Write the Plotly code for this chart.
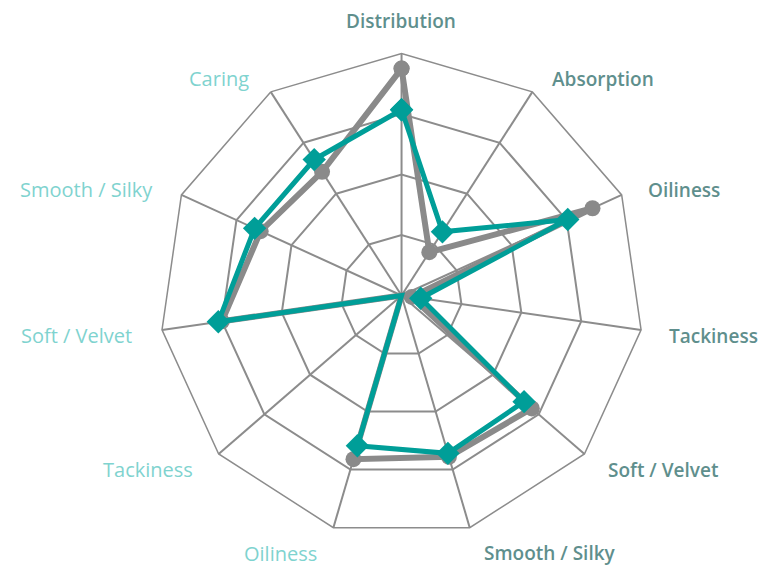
import math
import plotly.graph_objects as go

# Category ids (unique) and displayed labels
category_ids = ["Distribution", "Absorption", "Oiliness R", "Tackiness R", "Soft / Velvet R",
                "Smooth / Silky R", "Oiliness L", "Tackiness L", "Soft / Velvet L",
                "Smooth / Silky L", "Caring"]
label_text = ["Distribution", "Absorption", "Oiliness", "Tackiness", "Soft / Velvet",
              "Smooth / Silky", "Oiliness", "Tackiness", "Soft / Velvet",
              "Smooth / Silky", "Caring"]
label_group = ["dark", "dark", "dark", "dark", "dark", "dark",
               "light", "light", "light", "light", "light"]

grey_values = [3.75, 0.85, 3.47, 0.17, 2.85, 2.78, 2.82, 0.0, 3.0, 2.56, 2.43]
teal_values = [3.07, 1.25, 3.02, 0.32, 2.68, 2.72, 2.59, 0.0, 3.06, 2.67, 2.67]

radial_ticks = [1, 2, 3, 4]

DARK = "#5f8f8d"
LIGHT = "#7fd3cf"
GREY = "#8a8a8a"
TEAL = "#009e98"
GRID = "#8c8c8c"

W, H = 770, 567
OFF = 8  # page body margin offset of the plot div (pixels)
# on-screen polar centre / outer radius (pixels) for the domain below
CX, CY, R = 400.5, 293.5, 243.5
PAD, GAP = 18, 8


def closed(v):
    return list(v) + [v[0]]


fig = go.Figure()
fig.add_trace(go.Scatterpolar(
    r=closed(grey_values), theta=closed(category_ids), mode="lines+markers",
    line=dict(color=GREY, width=6), marker=dict(color=GREY, size=16, symbol="circle"),
    showlegend=False, hoverinfo="skip"))
fig.add_trace(go.Scatterpolar(
    r=closed(teal_values), theta=closed(category_ids), mode="lines+markers",
    line=dict(color=TEAL, width=5), marker=dict(color=TEAL, size=18, symbol="diamond"),
    showlegend=False, hoverinfo="skip"))

# point labels placed outside the polygon (chart.js-like placement)
annotations = []
n = len(category_ids)
for i, (t, g) in enumerate(zip(label_text, label_group)):
    ang = math.radians(90 - i * 360 / n)
    c, s = math.cos(ang), math.sin(ang)
    pad = PAD - 4 if s > 0.95 else PAD
    px = CX + (pad + R) * c
    py = CY - (pad + R) * s
    if c > 0.05:
        xanchor = "left"
        px += GAP
    elif c < -0.05:
        xanchor = "right"
        px -= GAP
    else:
        xanchor = "center"
    if s > 0.95:
        yanchor = "bottom"
    else:
        yanchor = "middle"
        py += 5
        if s < -0.9:
            py += 4
    if g == "dark":
        font = dict(family="Open Sans", size=19, color=DARK, weight=600)
    else:
        font = dict(family="Open Sans", size=20, color=LIGHT, weight=400)
    annotations.append(dict(
        text=t, x=(px - OFF) / W, y=1 - (py - OFF) / H, xref="paper", yref="paper",
        xanchor=xanchor, yanchor=yanchor, showarrow=False, font=font))

fig.update_layout(
    width=W, height=H,
    margin=dict(l=0, r=0, t=0, b=0),
    paper_bgcolor="white", plot_bgcolor="white",
    font=dict(family="Open Sans", size=18),
    annotations=annotations,
    polar=dict(
        domain=dict(x=[0.1968, 0.8254], y=[0.0662, 0.9198]),
        bgcolor="white",
        gridshape="linear",
        radialaxis=dict(range=[0, 4], tickvals=radial_ticks, showticklabels=False,
                        ticks="", showline=False, gridcolor=GRID, gridwidth=1.5),
        angularaxis=dict(type="category", categoryarray=category_ids,
                         rotation=90, direction="clockwise",
                         showticklabels=False, ticks="",
                         showline=True, linecolor=GRID, linewidth=1.5,
                         gridcolor=GRID, gridwidth=1.5),
    ),
)

fig.write_html("out.html")
